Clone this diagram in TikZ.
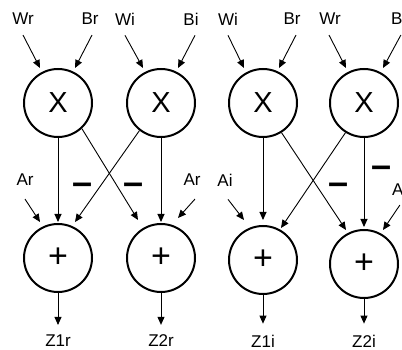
\documentclass[tikz,border=0pt]{standalone}
\usepackage{fontspec}
\setmainfont{Liberation Sans}
\usetikzlibrary{arrows.meta}
\begin{document}
\begin{tikzpicture}[x=1pt,y=-1pt,
  op/.style={circle, draw, line width=2pt, minimum size=68pt, inner sep=0pt},
  mul/.style={op, font=\fontsize{29}{29}\selectfont},
  add/.style={op, font=\fontsize{34}{34}\selectfont},
  lab/.style={font=\fontsize{17}{17}\selectfont, inner sep=0pt},
  arr/.style={-{Triangle[length=8pt,width=7pt]}, line width=0.9pt},
  minus/.style={font=\bfseries\fontsize{36}{36}\selectfont, inner sep=0pt}]
\useasboundingbox (0,0) rectangle (402,350);
% multipliers
\node[mul] (X1) at (58,103) {X};
\node[mul] (X2) at (161,103) {X};
\node[mul] (X3) at (263,103) {X};
\node[mul] (X4) at (364,103) {X};
% adders
\node[add] (A1) at (58,258) {+};
\node[add] (A2) at (161,258) {+};
\node[add] (A3) at (263,260) {+};
\node[add] (A4) at (364,264) {+};
% top labels
\node[lab] (l1) at (23,19) {Wr};
\node[lab] (l2) at (90,19) {Br};
\node[lab] (l3) at (125,19) {Wi};
\node[lab] (l4) at (191,19) {Bi};
\node[lab] (l5) at (228,19) {Wi};
\node[lab] (l6) at (292,19) {Br};
\node[lab] (l7) at (330,19) {Wr};
\node[lab,anchor=west] (l8) at (391,19) {B};
% side labels
\node[lab] (s1) at (25,180) {Ar};
\node[lab] (s2) at (192,180) {Ar};
\node[lab] (s3) at (225,180) {Ai};
\node[lab,anchor=west] (s4) at (392,190) {A};
% outputs
\node[lab] (z1) at (58,341) {Z1r};
\node[lab] (z2) at (161,341) {Z2r};
\node[lab] (z3) at (263,341) {Z1i};
\node[lab] (z4) at (364,341) {Z2i};
% input arrows
\draw[arr] ([yshift=-10pt]l1.south) -- ([shift={(-18,-35)}]X1.center);
\draw[arr] ([shift={(2pt,-10pt)}]l2.south) -- ([shift={(17,-35)}]X1.center);
\draw[arr] ([yshift=-10pt]l3.south) -- ([shift={(-18,-35)}]X2.center);
\draw[arr] ([shift={(4pt,-10pt)}]l4.south) -- ([shift={(17,-35)}]X2.center);
\draw[arr] ([yshift=-10pt]l5.south) -- ([shift={(-19,-35)}]X3.center);
\draw[arr] ([shift={(4pt,-10pt)}]l6.south) -- ([shift={(16,-35)}]X3.center);
\draw[arr] ([shift={(-1pt,-10pt)}]l7.south) -- ([shift={(-18,-35)}]X4.center);
\draw[arr] ([shift={(4pt,-10pt)}]l8.south) -- ([shift={(19,-35)}]X4.center);
% multiplier to adder
\draw[arr] (X1.south) -- ([shift={(0,-36)}]A1.center);
\draw[arr] (X1.-47) -- ([shift={(-23,-38)}]A2.center);
\draw[arr] (X2.-128) -- ([shift={(17,-36)}]A1.center);
\draw[arr] (X2.south) -- ([shift={(0,-36)}]A2.center);
\draw[arr] (X3.south) -- ([shift={(0,-40)}]A3.center);
\draw[arr] (X3.-58) -- ([shift={(-18,-34)}]A4.center);
\draw[arr] (X4.-122) -- ([shift={(18,-32)}]A3.center);
\draw[arr] (X4.south) -- ([shift={(0,-37)}]A4.center);
% side arrows
\draw[arr] ([yshift=-13pt]s1.south) -- ([shift={(-18,-36)}]A1.center);
\draw[arr] ([shift={(3pt,-13pt)}]s2.south) -- ([shift={(17,-40)}]A2.center);
\draw[arr] ([shift={(3pt,-13pt)}]s3.south) -- ([shift={(-19,-40)}]A3.center);
\draw[arr] ([shift={(2pt,-9pt)}]s4.south) -- ([shift={(19,-34)}]A4.center);
% outputs
\draw[arr] (A1.south) -- ([yshift=10pt]z1.north);
\draw[arr] (A2.south) -- ([yshift=10pt]z2.north);
\draw[arr] (A3.south) -- ([yshift=11pt]z3.north);
\draw[arr] (A4.south) -- ([yshift=11pt]z4.north);
% minus signs
\node[minus] (m1) at (83,189) {–};
\node[minus] (m2) at (134,189) {–};
\node[minus] (m3) at (339,189) {–};
\node[minus] (m4) at (382,172) {–};
\end{tikzpicture}
\end{document}
